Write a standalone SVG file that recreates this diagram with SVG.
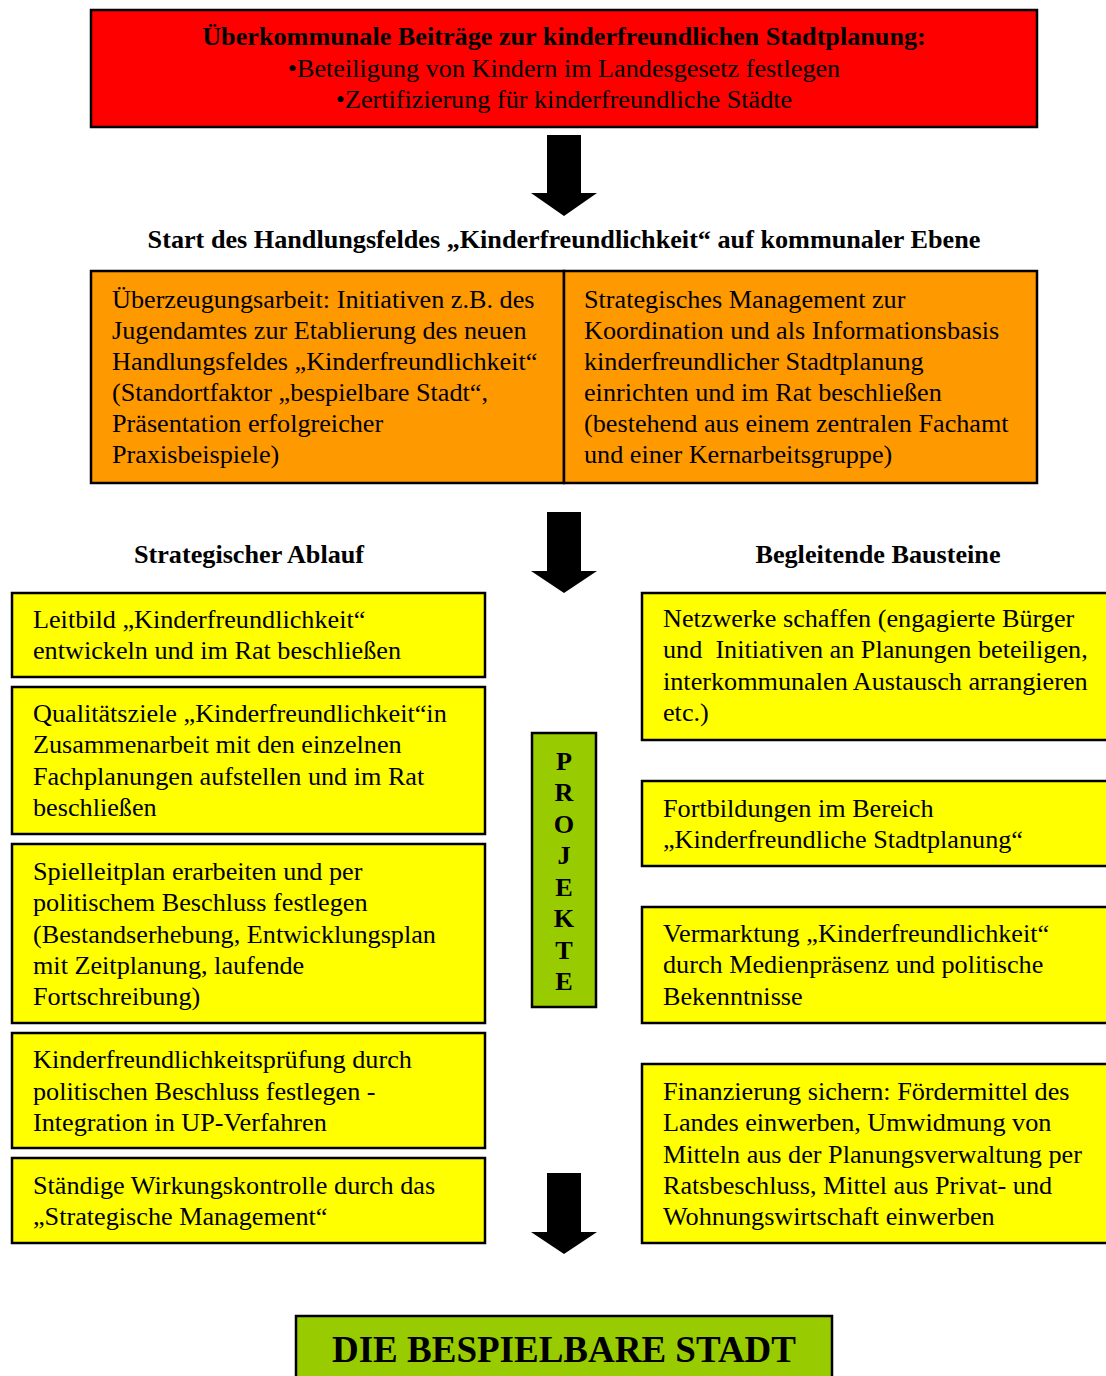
<svg xmlns="http://www.w3.org/2000/svg" width="1106" height="1376" viewBox="0 0 1106 1376">
<style>
.box{stroke:#000;stroke-width:2.5}
.red{fill:#FF0000}.org{fill:#FF9900}.yel{fill:#FFFF00}.grn{fill:#99CC00}
text{font-family:"Liberation Serif","Times New Roman",serif;fill:#000}
.t{font-size:26.2px}
.b{font-size:26.2px;font-weight:bold}
.c{text-anchor:middle}
.arrow{fill:#000}
</style>
<rect width="1106" height="1376" fill="#fff"/>
<g id="top-box">
<rect class="box red" x="91" y="10" width="946" height="117"/>
<text class="b c" x="564" y="45">Überkommunale Beiträge zur kinderfreundlichen Stadtplanung:</text>
<text class="t c" x="564" y="77">•Beteiligung von Kindern im Landesgesetz festlegen</text>
<text class="t c" x="564" y="108">•Zertifizierung für kinderfreundliche Städte</text>
</g>
<g id="start-heading">
<text class="b c" x="564" y="248">Start des Handlungsfeldes „Kinderfreundlichkeit“ auf kommunaler Ebene</text>
</g>
<g id="orange-left">
<rect class="box org" x="91" y="271" width="473" height="212"/>
<text class="t" x="112"><tspan x="112" y="308">Überzeugungsarbeit: Initiativen z.B. des</tspan><tspan x="112" y="339">Jugendamtes zur Etablierung des neuen</tspan><tspan x="112" y="370">Handlungsfeldes „Kinderfreundlichkeit“</tspan><tspan x="112" y="401">(Standortfaktor „bespielbare Stadt“,</tspan><tspan x="112" y="432">Präsentation erfolgreicher</tspan><tspan x="112" y="463">Praxisbeispiele)</tspan></text>
</g>
<g id="orange-right">
<rect class="box org" x="564" y="271" width="473" height="212"/>
<text class="t" x="584"><tspan x="584" y="308">Strategisches Management zur</tspan><tspan x="584" y="339">Koordination und als Informationsbasis</tspan><tspan x="584" y="370">kinderfreundlicher Stadtplanung</tspan><tspan x="584" y="401">einrichten und im Rat beschließen</tspan><tspan x="584" y="432">(bestehend aus einem zentralen Fachamt</tspan><tspan x="584" y="463">und einer Kernarbeitsgruppe)</tspan></text>
</g>
<g id="heading-left"><text class="b c" x="249" y="563">Strategischer Ablauf</text></g>
<g id="heading-right"><text class="b c" x="878" y="563">Begleitende Bausteine</text></g>
<g id="left-1">
<rect class="box yel" x="12" y="593" width="473" height="84"/>
<text class="t"><tspan x="33" y="628">Leitbild „Kinderfreundlichkeit“</tspan><tspan x="33" y="659">entwickeln und im Rat beschließen</tspan></text>
</g>
<g id="left-2">
<rect class="box yel" x="12" y="687" width="473" height="147"/>
<text class="t"><tspan x="33" y="722">Qualitätsziele „Kinderfreundlichkeit“in</tspan><tspan x="33" y="753">Zusammenarbeit mit den einzelnen</tspan><tspan x="33" y="785">Fachplanungen aufstellen und im Rat</tspan><tspan x="33" y="816">beschließen</tspan></text>
</g>
<g id="left-3">
<rect class="box yel" x="12" y="844" width="473" height="179"/>
<text class="t"><tspan x="33" y="880">Spielleitplan erarbeiten und per</tspan><tspan x="33" y="911">politischem Beschluss festlegen</tspan><tspan x="33" y="943">(Bestandserhebung, Entwicklungsplan</tspan><tspan x="33" y="974">mit Zeitplanung, laufende</tspan><tspan x="33" y="1005">Fortschreibung)</tspan></text>
</g>
<g id="left-4">
<rect class="box yel" x="12" y="1033" width="473" height="115"/>
<text class="t"><tspan x="33" y="1068">Kinderfreundlichkeitsprüfung durch</tspan><tspan x="33" y="1100">politischen Beschluss festlegen -</tspan><tspan x="33" y="1131">Integration in UP-Verfahren</tspan></text>
</g>
<g id="left-5">
<rect class="box yel" x="12" y="1158" width="473" height="85"/>
<text class="t"><tspan x="33" y="1194">Ständige Wirkungskontrolle durch das</tspan><tspan x="33" y="1225">„Strategische Management“</tspan></text>
</g>
<g id="projekte">
<rect class="box grn" x="532" y="733" width="64" height="274"/>
<text class="b c"><tspan x="564" y="770">P</tspan><tspan x="564" y="801">R</tspan><tspan x="564" y="833">O</tspan><tspan x="564" y="864">J</tspan><tspan x="564" y="896">E</tspan><tspan x="564" y="927">K</tspan><tspan x="564" y="959">T</tspan><tspan x="564" y="990">E</tspan></text>
</g>
<g id="right-1">
<rect class="box yel" x="642" y="593" width="470" height="147"/>
<text class="t"><tspan x="663" y="627">Netzwerke schaffen (engagierte Bürger</tspan><tspan x="663" y="658" xml:space="preserve">und  Initiativen an Planungen beteiligen,</tspan><tspan x="663" y="690">interkommunalen Austausch arrangieren</tspan><tspan x="663" y="721">etc.)</tspan></text>
</g>
<g id="right-2">
<rect class="box yel" x="642" y="781" width="470" height="85"/>
<text class="t"><tspan x="663" y="817">Fortbildungen im Bereich</tspan><tspan x="663" y="848">„Kinderfreundliche Stadtplanung“</tspan></text>
</g>
<g id="right-3">
<rect class="box yel" x="642" y="907" width="470" height="116"/>
<text class="t"><tspan x="663" y="942">Vermarktung „Kinderfreundlichkeit“</tspan><tspan x="663" y="973">durch Medienpräsenz und politische</tspan><tspan x="663" y="1005">Bekenntnisse</tspan></text>
</g>
<g id="right-4">
<rect class="box yel" x="642" y="1064" width="470" height="179"/>
<text class="t"><tspan x="663" y="1100">Finanzierung sichern: Fördermittel des</tspan><tspan x="663" y="1131">Landes einwerben, Umwidmung von</tspan><tspan x="663" y="1163">Mitteln aus der Planungsverwaltung per</tspan><tspan x="663" y="1194">Ratsbeschluss, Mittel aus Privat- und</tspan><tspan x="663" y="1225">Wohnungswirtschaft einwerben</tspan></text>
</g>
<g id="final">
<rect class="box grn" x="296" y="1316" width="536" height="70"/>
<text class="c" x="564" y="1362" style="font-size:37px;font-weight:bold">DIE BESPIELBARE STADT</text>
</g>
<g id="connectors">
<polygon class="arrow" points="547,135 581,135 581,193 597,193 564,216 531,193 547,193"/>
<polygon class="arrow" points="547,512 581,512 581,571 597,571 564,593 531,571 547,571"/>
<polygon class="arrow" points="547,1173 581,1173 581,1232 597,1232 564,1254 531,1232 547,1232"/>
</g>
</svg>
